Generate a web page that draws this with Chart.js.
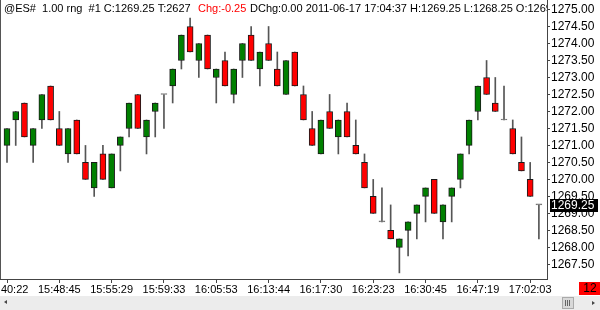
<!DOCTYPE html>
<html>
<head>
<meta charset="utf-8">
<script src="https://cdn.jsdelivr.net/npm/chart.js@4.4.1/dist/chart.umd.min.js"></script>
<style>
  html, body { margin: 0; padding: 0; background: #fff; }
</style>
</head>
<body>
<canvas id="es-chart" width="600" height="310"></canvas>
<script>
// 1.00 range bars, @ES#
const timeLabels = ['15:40:22', '15:48:45', '15:55:29', '15:59:33', '16:05:53', '16:13:44',
  '16:17:30', '16:23:23', '16:30:45', '16:47:19', '17:02:03'];
const labelEvery = 6;

const opens = [
  1271.00, 1271.75, 1272.25, 1271.00, 1271.75, 1272.75, 1271.50, 1270.75, 1271.75, 1270.50,
  1269.75, 1270.75, 1269.75, 1271.00, 1271.50, 1272.50, 1271.25, 1272.00, 1272.50, 1272.75,
  1273.50, 1274.50, 1273.50, 1274.25, 1273.00, 1273.50, 1272.50, 1273.50, 1274.25, 1273.25,
  1274.00, 1273.25, 1272.50, 1273.75, 1272.50, 1271.50, 1270.75, 1272.00, 1271.25, 1272.00,
  1271.00, 1270.50, 1269.50, 1268.75, 1268.50, 1268.00, 1268.50, 1269.00, 1269.50, 1270.00,
  1268.75, 1269.50, 1270.00, 1271.00, 1272.00, 1273.00, 1272.25, 1271.75, 1271.50, 1270.50,
  1270.00, 1269.25
];
const highs = [
  1271.50, 1272.00, 1272.25, 1271.50, 1272.50, 1272.75, 1272.00, 1271.50, 1271.75, 1271.00,
  1270.50, 1271.00, 1270.75, 1271.25, 1272.25, 1272.50, 1271.75, 1272.25, 1272.50, 1273.25,
  1274.25, 1274.75, 1274.00, 1274.25, 1273.25, 1273.75, 1273.25, 1274.00, 1274.50, 1273.75,
  1274.50, 1273.75, 1273.50, 1273.75, 1272.75, 1272.00, 1271.75, 1272.50, 1271.75, 1272.25,
  1271.75, 1270.75, 1270.00, 1269.75, 1269.25, 1268.25, 1268.75, 1269.25, 1269.75, 1270.00,
  1269.25, 1269.75, 1270.75, 1271.75, 1272.75, 1273.50, 1273.00, 1272.75, 1271.75, 1271.25,
  1270.50, 1269.25
];
const lows = [
  1270.50, 1271.00, 1271.25, 1270.50, 1271.50, 1271.75, 1271.00, 1270.50, 1270.75, 1270.00,
  1269.50, 1270.00, 1269.75, 1270.25, 1271.25, 1271.50, 1270.75, 1271.25, 1271.50, 1272.25,
  1273.25, 1273.75, 1273.00, 1273.25, 1272.25, 1272.75, 1272.25, 1273.00, 1273.50, 1272.75,
  1273.50, 1272.75, 1272.50, 1272.75, 1271.75, 1271.00, 1270.75, 1271.50, 1270.75, 1271.25,
  1270.75, 1269.75, 1269.00, 1268.75, 1268.25, 1267.25, 1267.75, 1268.25, 1268.75, 1269.00,
  1268.25, 1268.75, 1269.75, 1270.75, 1271.75, 1272.50, 1272.00, 1271.75, 1270.75, 1270.25,
  1269.50, 1268.25
];
const closes = [
  1271.50, 1272.00, 1271.25, 1271.50, 1272.50, 1271.75, 1271.00, 1271.50, 1270.75, 1270.00,
  1270.50, 1270.00, 1270.75, 1271.25, 1272.25, 1271.50, 1271.75, 1272.25, 1272.50, 1273.25,
  1274.25, 1273.75, 1274.00, 1273.25, 1273.25, 1272.75, 1273.25, 1274.00, 1273.50, 1273.75,
  1273.50, 1272.75, 1273.50, 1272.75, 1271.75, 1271.00, 1271.75, 1271.50, 1271.75, 1271.25,
  1270.75, 1269.75, 1269.00, 1268.75, 1268.25, 1268.25, 1268.75, 1269.25, 1269.75, 1269.00,
  1269.25, 1269.75, 1270.75, 1271.75, 1272.75, 1272.50, 1272.00, 1271.75, 1270.75, 1270.25,
  1269.50, 1269.25
];
const priceTicks = [1267.5, 1268, 1268.5, 1269, 1269.5, 1270, 1270.5, 1271, 1271.5,
  1272, 1272.5, 1273, 1273.5, 1274, 1274.5, 1275];

const headerParts = [
  ['@ES#  1.00 rng  #1 C:1269.25 T:2627', '#000', 4],
  ['Chg:-0.25', '#ff0000', 198],
  ['DChg:0.00 2011-06-17 17:04:37 H:1269.25 L:1268.25 O:1269.25', '#000', 250],
];
const barCount = '12';

const FONT = 'Arial, "Liberation Sans", sans-serif';

function candleColor(i) {
  if (closes[i] > opens[i]) return '#008000';
  if (closes[i] < opens[i]) return '#ff0000';
  return '#777';
}

const decor = {
  id: 'decor',
  beforeDraw(chart) {
    const ctx = chart.ctx;
    ctx.save();
    ctx.fillStyle = '#fff';
    ctx.fillRect(0, 0, chart.width, chart.height);
    ctx.restore();
  },
  afterDraw(chart) {
    const ctx = chart.ctx;
    const area = chart.chartArea;
    const yScale = chart.scales.y;
    ctx.save();

    // left frame line
    ctx.fillStyle = '#555';
    ctx.fillRect(area.left, area.top, 1, area.bottom - area.top);

    // header line
    ctx.save();
    ctx.beginPath();
    ctx.rect(area.left, 0, area.right - area.left, 20);
    ctx.clip();
    ctx.font = '11px ' + FONT;
    ctx.textBaseline = 'alphabetic';
    headerParts.forEach(([txt, col, hx]) => {
      ctx.fillStyle = col;
      ctx.fillText(txt, hx, 12);
    });
    ctx.restore();

    // last price box
    const last = closes[closes.length - 1];
    const py = Math.round(yScale.getPixelForValue(last));
    ctx.fillStyle = '#000';
    ctx.fillRect(550, py - 6, 48, 13);
    ctx.fillStyle = '#fff';
    ctx.font = '12px ' + FONT;
    ctx.textBaseline = 'middle';
    ctx.fillText(last.toFixed(2), 551, py + 1);

    // bar counter box
    ctx.fillStyle = '#ff0000';
    ctx.fillRect(579, 282, 21, 13);
    ctx.fillStyle = '#000';
    ctx.textAlign = 'center';
    ctx.fillText(barCount, 590, 289);

    // scroll strip
    ctx.fillStyle = '#ececec';
    ctx.fillRect(0, 296, chart.width, 14);
    ctx.fillStyle = '#444';
    ctx.beginPath();
    ctx.moveTo(4, 302); ctx.lineTo(7, 300); ctx.lineTo(7, 304); ctx.fill();
    ctx.beginPath();
    ctx.moveTo(595, 303); ctx.lineTo(592, 301); ctx.lineTo(592, 305); ctx.fill();
    ctx.fillStyle = '#d8d8d8';
    ctx.fillRect(562, 297, 12, 12);
    ctx.strokeStyle = '#aaa';
    ctx.strokeRect(562.5, 297.5, 11, 11);
    ctx.fillStyle = '#666';
    [565, 567, 569].forEach(lx => ctx.fillRect(lx, 300, 1, 6));

    ctx.restore();
  }
};

new Chart(document.getElementById('es-chart'), {
  type: 'bar',
  data: {
    datasets: [
      {
        label: 'body',
        data: opens.map((o, i) => ({ x: i, y: [o, closes[i]] })),
        backgroundColor: (c) => candleColor(c.dataIndex),
        borderColor: (c) => (closes[c.dataIndex] === opens[c.dataIndex] ? '#777' : '#1a1a1a'),
        borderWidth: 1,
        borderSkipped: false,
        barThickness: 6,
        minBarLength: 1,
        grouped: false,
        order: 0,
      },
      {
        label: 'wick',
        data: lows.map((l, i) => ({ x: i, y: [l, highs[i]] })),
        backgroundColor: '#555',
        borderWidth: 0,
        barThickness: 1,
        grouped: false,
        order: 1,
      },
    ],
  },
  options: {
    responsive: false,
    animation: false,
    devicePixelRatio: 1,
    layout: { padding: 0 },
    plugins: { legend: { display: false }, tooltip: { enabled: false } },
    scales: {
      x: {
        type: 'linear',
        position: 'bottom',
        offset: false,
        min: -0.803,
        max: 61.93,
        grid: { offset: false, drawOnChartArea: false, drawTicks: true, tickLength: 4, color: '#444' },
        border: { color: '#444' },
        ticks: {
          autoSkip: false,
          maxRotation: 0,
          padding: 0,
          color: '#000',
          font: { family: FONT, size: 11 },
          callback: (v) => timeLabels[Math.round(v / labelEvery)],
        },
        afterBuildTicks: (s) => { s.ticks = timeLabels.map((t, k) => ({ value: k * labelEvery })); },
        afterFit: (s) => { s.height = 31; s.paddingLeft = 0; s.paddingRight = 0; },
      },
      y: {
        type: 'linear',
        position: 'right',
        min: 1267.07,
        max: 1275.28,
        grid: { drawOnChartArea: false, drawTicks: true, tickLength: 3, color: '#444' },
        border: { color: '#444' },
        ticks: {
          padding: 1,
          color: '#000',
          font: { family: FONT, size: 12 },
          callback: (v) => Number(v).toFixed(2),
        },
        afterBuildTicks: (s) => { s.ticks = priceTicks.map((v) => ({ value: v })); },
        afterFit: (s) => { s.width = 53; s.paddingTop = 0; s.paddingBottom = 0; },
      },
    },
  },
  plugins: [decor],
});
</script>
</body>
</html>
